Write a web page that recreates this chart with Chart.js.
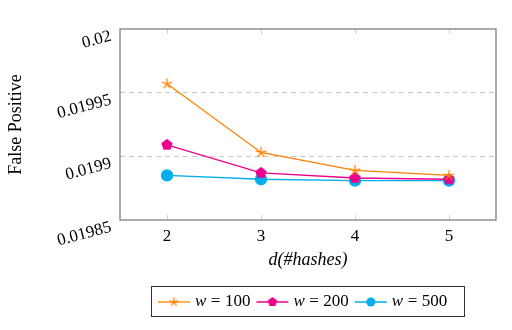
<!DOCTYPE html>
<html>
<head>
<meta charset="utf-8">
<script src="https://cdn.jsdelivr.net/npm/chart.js@4.4.0/dist/chart.umd.min.js"></script>
<style>
    html, body { margin: 0; padding: 0; background: #fff; }
</style>
</head>
<body>
<canvas id="fpChart" width="512" height="330"></canvas>
<script>
// datos
const hashes = [2, 3, 4, 5];
const fpW100 = [0.019957, 0.019903, 0.019889, 0.019885];
const fpW200 = [0.019909, 0.019887, 0.019883, 0.019882];
const fpW500 = [0.019885, 0.019882, 0.019881, 0.019881];
const yTicks = [0.01985, 0.0199, 0.01995, 0.02];
const yTickLabels = ['0.01985', '0.0199', '0.01995', '0.02'];
const seriesNames = ['100', '200', '500'];

const ORANGE = 'rgb(255,128,0)';
const PINK = 'rgb(236,0,140)';
const CYAN = 'rgb(0,174,239)';
const SERIF = '"Liberation Serif", "DejaVu Serif", serif';

function makeMarker(kind, color, r) {
    const c = document.createElement('canvas');
    const s = Math.ceil(r * 2 + 4);
    c.width = s; c.height = s;
    const g = c.getContext('2d');
    g.translate(s / 2, s / 2);
    g.strokeStyle = color;
    g.fillStyle = color;
    g.lineWidth = 1.3;
    g.beginPath();
    for (let i = 0; i < 5; i++) {
        const a = -Math.PI / 2 + i * 2 * Math.PI / 5;
        if (kind === 'star') {
            g.moveTo(0, 0);
            g.lineTo(r * Math.cos(a), r * Math.sin(a));
        } else {
            if (i === 0) g.moveTo(r * Math.cos(a), r * Math.sin(a));
            else g.lineTo(r * Math.cos(a), r * Math.sin(a));
        }
    }
    if (kind === 'star') {
        g.stroke();
    } else {
        g.closePath();
        g.fill();
    }
    return c;
}

const starMark = makeMarker('star', ORANGE, 5.5);
const pentaMark = makeMarker('penta', PINK, 6);
const starSmall = makeMarker('star', ORANGE, 4.5);
const pentaSmall = makeMarker('penta', PINK, 5);

function toPoints(vals) {
    return hashes.map((h, i) => ({ x: h, y: vals[i] }));
}

// marco, marcas de eje y etiquetas del eje y
const framePlugin = {
    id: 'frame',
    afterDraw(chart) {
        const { ctx, chartArea: a, scales } = chart;
        ctx.save();
        ctx.strokeStyle = '#d0d0d0';
        ctx.lineWidth = 1;
        hashes.forEach(h => {
            const x = Math.round(scales.x.getPixelForValue(h)) + 0.5;
            ctx.beginPath();
            ctx.moveTo(x, a.bottom); ctx.lineTo(x, a.bottom - 5);
            ctx.moveTo(x, a.top); ctx.lineTo(x, a.top + 5);
            ctx.stroke();
        });
        ctx.strokeStyle = '#808080';
        ctx.lineWidth = 1.3;
        ctx.strokeRect(a.left, a.top, a.right - a.left, a.bottom - a.top);

        ctx.fillStyle = '#000';
        ctx.font = '17px ' + SERIF;
        ctx.textAlign = 'right';
        ctx.textBaseline = 'middle';
        yTicks.forEach((v, i) => {
            const y = scales.y.getPixelForValue(v);
            ctx.save();
            ctx.translate(a.left - 9, y + 7);
            ctx.rotate(-15 * Math.PI / 180);
            ctx.fillText(yTickLabels[i], 0, 0);
            ctx.restore();
        });
        ctx.restore();
    }
};

const legendPlugin = {
    id: 'boxLegend',
    afterDraw(chart) {
        const { ctx } = chart;
        const marks = [starSmall, pentaSmall, null];
        const cy = 302;
        ctx.save();
        ctx.textBaseline = 'middle';
        ctx.textAlign = 'left';
        let x = 158;
        chart.data.datasets.forEach((ds, i) => {
            ctx.strokeStyle = ds.borderColor;
            ctx.lineWidth = 1.3;
            ctx.beginPath();
            ctx.moveTo(x, cy); ctx.lineTo(x + 32, cy);
            ctx.stroke();
            if (marks[i]) {
                ctx.drawImage(marks[i], x + 16 - marks[i].width / 2, cy - marks[i].height / 2);
            } else {
                ctx.fillStyle = ds.borderColor;
                ctx.beginPath();
                ctx.arc(x + 16, cy, 4.5, 0, Math.PI * 2);
                ctx.fill();
            }
            x += 37;
            ctx.fillStyle = '#000';
            ctx.font = 'italic 17px ' + SERIF;
            ctx.fillText('w', x, cy);
            x += ctx.measureText('w').width + 4.5;
            ctx.font = '17px ' + SERIF;
            ctx.fillText('=', x, cy);
            x += ctx.measureText('=').width + 4.5;
            ctx.fillText(seriesNames[i], x, cy);
            x += ctx.measureText(seriesNames[i]).width + 6;
        });
        ctx.strokeStyle = '#333';
        ctx.lineWidth = 1;
        ctx.strokeRect(151.5, 286.5, 313, 30);
        ctx.restore();
    }
};

const ctx = document.getElementById('fpChart').getContext('2d');
new Chart(ctx, {
    type: 'line',
    data: {
        datasets: [{
            label: 'w = 100',
            data: toPoints(fpW100),
            borderColor: ORANGE,
            backgroundColor: ORANGE,
            pointStyle: starMark,
            borderWidth: 1.3
        }, {
            label: 'w = 200',
            data: toPoints(fpW200),
            borderColor: PINK,
            backgroundColor: PINK,
            pointStyle: pentaMark,
            borderWidth: 1.3
        }, {
            label: 'w = 500',
            data: toPoints(fpW500),
            borderColor: CYAN,
            backgroundColor: CYAN,
            pointStyle: 'circle',
            pointRadius: 5.5,
            borderWidth: 1.3
        }]
    },
    options: {
        responsive: false,
        animation: false,
        layout: { padding: { top: 29, right: 16, bottom: 54, left: 0 } },
        plugins: {
            legend: { display: false },
            tooltip: { enabled: false }
        },
        scales: {
            x: {
                type: 'linear',
                min: 1.5,
                max: 5.5,
                afterBuildTicks: s => { s.ticks = hashes.map(v => ({ value: v })); },
                afterFit: s => { s.height = 56; },
                grid: { display: false, drawTicks: false },
                border: { display: false },
                ticks: {
                    color: '#000',
                    padding: 6,
                    font: { family: SERIF, size: 17 },
                    maxRotation: 0
                },
                title: {
                    display: true,
                    text: 'd(#hashes)',
                    color: '#000',
                    font: { family: SERIF, size: 18, style: 'italic' },
                    padding: { top: 0, bottom: 5 }
                }
            },
            y: {
                min: 0.01985,
                max: 0.02,
                afterBuildTicks: s => { s.ticks = yTicks.map(v => ({ value: v })); },
                afterFit: s => { s.width = 120; },
                grid: {
                    drawTicks: false,
                    lineWidth: 1,
                    color: c => (c.index === 0 || c.index === yTicks.length - 1) ? 'rgba(0,0,0,0)' : '#c8c8c8'
                },
                border: { display: false, dash: [5, 4] },
                ticks: { display: false },
                title: {
                    display: true,
                    text: 'False Positive',
                    color: '#000',
                    font: { family: SERIF, size: 18 },
                    padding: { top: 5, bottom: 0 }
                }
            }
        }
    },
    plugins: [framePlugin, legendPlugin]
});
</script>
</body>
</html>
